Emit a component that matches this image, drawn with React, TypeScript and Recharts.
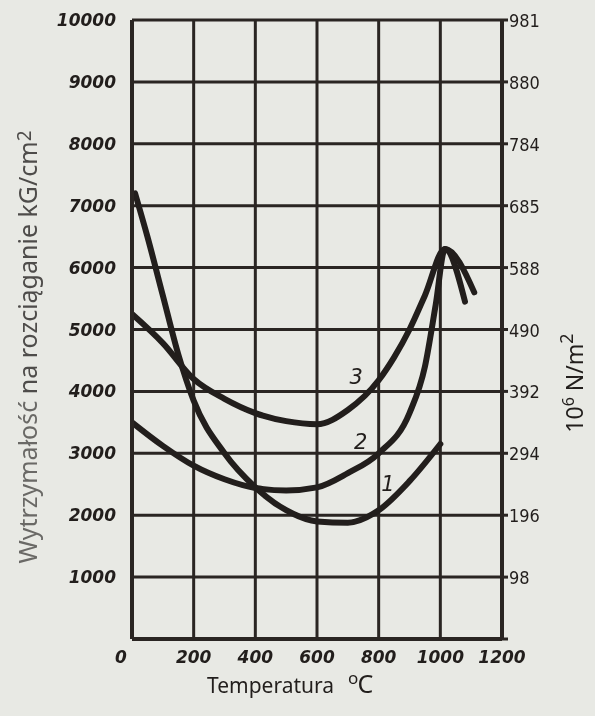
import React from "react";
import { LineChart, Line, XAxis, YAxis, CartesianGrid, ReferenceDot } from "recharts";

const temperatureTicks = [0, 200, 400, 600, 800, 1000, 1200];
const strengthTicks = [0, 1000, 2000, 3000, 4000, 5000, 6000, 7000, 8000, 9000, 10000];
const siLabels = ["", "98", "196", "294", "392", "490", "588", "685", "784", "880", "981"];

const curve1 = [
  { t: 10, v: 7200 },
  { t: 50, v: 6500 },
  { t: 100, v: 5550 },
  { t: 150, v: 4600 },
  { t: 200, v: 3850 },
  { t: 300, v: 3000 },
  { t: 400, v: 2450 },
  { t: 500, v: 2080 },
  { t: 600, v: 1900 },
  { t: 700, v: 1880 },
  { t: 800, v: 2080 },
  { t: 900, v: 2550 },
  { t: 1000, v: 3150 },
];

const curve2 = [
  { t: 0, v: 3500 },
  { t: 100, v: 3120 },
  { t: 200, v: 2800 },
  { t: 300, v: 2580 },
  { t: 400, v: 2440 },
  { t: 500, v: 2400 },
  { t: 600, v: 2450 },
  { t: 700, v: 2680 },
  { t: 800, v: 3000 },
  { t: 900, v: 3650 },
  { t: 950, v: 4400 },
  { t: 985, v: 5400 },
  { t: 1015, v: 6300 },
  { t: 1080, v: 5450 },
];

const curve3 = [
  { t: 0, v: 5250 },
  { t: 100, v: 4780 },
  { t: 200, v: 4200 },
  { t: 300, v: 3880 },
  { t: 400, v: 3650 },
  { t: 500, v: 3520 },
  { t: 600, v: 3470 },
  { t: 700, v: 3700 },
  { t: 800, v: 4180 },
  { t: 850, v: 4550 },
  { t: 900, v: 5000 },
  { t: 950, v: 5550 },
  { t: 1015, v: 6300 },
  { t: 1110, v: 5600 },
];

const curveLabels = [
  { t: 830, v: 2520, text: "1" },
  { t: 742, v: 3200, text: "2" },
  { t: 727, v: 4250, text: "3" },
];

const INK = "#221e1c";
const GRID = "#2a2522";
const HAND = "'DejaVu Sans', sans-serif";

const XTick = (props: any) => {
  const { x, y, payload } = props;
  const dx = payload.value === 0 ? -11 : 0;
  return (
    <text x={x + dx} y={y + 24} textAnchor="middle" fill={INK} fontFamily={HAND}
      fontWeight="bold" fontStyle="italic" fontSize={17}>
      {payload.value}
    </text>
  );
};

const LeftTick = (props: any) => {
  const { x, y, payload } = props;
  if (payload.value === 0) return null;
  return (
    <text x={x} y={y + 6} textAnchor="end" fill={INK} fontFamily={HAND}
      fontWeight="bold" fontStyle="italic" fontSize={17}>
      {payload.value}
    </text>
  );
};

const RightTick = (props: any) => {
  const { x, y, payload } = props;
  const idx = strengthTicks.indexOf(Number(payload.value));
  const lbl = idx >= 0 ? siLabels[idx] : "";
  return (
    <text x={x} y={y + 7} textAnchor="start" fill={INK}
      fontFamily="'DejaVu Sans Condensed', 'DejaVu Sans', sans-serif" fontSize={18}>
      {lbl}
    </text>
  );
};

const LeftTitle = () => (
  <text x={29} y={339} transform="rotate(-90 29 339)" textAnchor="middle"
    fill="#4e4c4a" fontFamily="'Noto Sans', sans-serif" fontSize={25}>
    <tspan fill="#6a6966">Wytrzymałość</tspan> na rozciąganie kG/cm
    <tspan dy={-6} fontSize={19}>2</tspan>
  </text>
);

const RightTitle = () => (
  <text x={575} y={375} transform="rotate(-90 575 375)" textAnchor="middle"
    fill={INK} fontFamily="'Noto Sans', sans-serif" fontSize={23}>
    10
    <tspan dy={-9} fontSize={16}>6</tspan>
    <tspan dy={9}> N/m</tspan>
    <tspan dy={-10} fontSize={18}>2</tspan>
  </text>
);

const BottomTitle = () => (
  <text x={199} y={685} textAnchor="start" fill={INK} fontFamily="'Noto Sans', sans-serif" fontSize={21}>
    Temperatura
    <tspan dx={14} dy={-9} fontSize={17}>o</tspan>
    <tspan dy={9} dx={-1} fontSize={25}>C</tspan>
  </text>
);

const CurveLabel = (text: string) => (props: any) => {
  const { viewBox } = props;
  const cx = viewBox ? viewBox.x + (viewBox.width || 0) / 2 : 0;
  const cy = viewBox ? viewBox.y + (viewBox.height || 0) / 2 : 0;
  return (
    <text x={cx} y={cy + 8} textAnchor="middle" fill={INK} fontFamily={HAND}
      fontStyle="italic" fontSize={21}>
      {text}
    </text>
  );
};

export default function App() {
  return (
    <div style={{ position: "relative", width: 587, height: 700 }}>
      <div style={{ position: "fixed", inset: 0, background: "#e8e9e4", zIndex: -1 }} />
      <LineChart width={587} height={700} margin={{ top: 12, right: 0, bottom: 0, left: 0 }}>
        <CartesianGrid yAxisId="left" stroke={GRID} strokeWidth={3} />
        <XAxis dataKey="t" type="number" domain={[0, 1200]} ticks={temperatureTicks}
          allowDataOverflow height={69} tickLine={false} tickSize={0} tickMargin={0}
          axisLine={{ stroke: GRID, strokeWidth: 4 }} tick={<XTick />} interval={0}
          label={{ content: () => <BottomTitle /> }} />
        <YAxis yAxisId="left" type="number" domain={[0, 10000]} ticks={strengthTicks}
          width={124} tickLine={false} tickSize={0} tickMargin={16} interval={0}
          axisLine={{ stroke: GRID, strokeWidth: 4 }} tick={<LeftTick />}
          label={{ content: () => <LeftTitle /> }} />
        <YAxis yAxisId="right" orientation="right" type="number" domain={[0, 10000]}
          allowDataOverflow ticks={strengthTicks} width={93} tickSize={6} tickMargin={1} interval={0}
          tickLine={{ stroke: GRID, strokeWidth: 3 }}
          axisLine={{ stroke: GRID, strokeWidth: 4 }} tick={<RightTick />}
          label={{ content: () => <RightTitle /> }} />
        <Line yAxisId="right" data={curve1} dataKey="v" type="monotone" stroke="none"
          strokeWidth={0} dot={false} activeDot={false} isAnimationActive={false} legendType="none" />
        <Line yAxisId="left" data={curve1} dataKey="v" type="monotone" stroke={INK}
          strokeWidth={6} dot={false} isAnimationActive={false} strokeLinecap="round" />
        <Line yAxisId="left" data={curve2} dataKey="v" type="monotone" stroke={INK}
          strokeWidth={6} dot={false} isAnimationActive={false} strokeLinecap="round" />
        <Line yAxisId="left" data={curve3} dataKey="v" type="monotone" stroke={INK}
          strokeWidth={6} dot={false} isAnimationActive={false} strokeLinecap="round" />
        {curveLabels.map((c) => (
          <ReferenceDot key={c.text} yAxisId="left" x={c.t} y={c.v} r={0}
            fill="none" stroke="none" label={{ content: CurveLabel(c.text) } as any} />
        ))}
      </LineChart>
    </div>
  );
}
